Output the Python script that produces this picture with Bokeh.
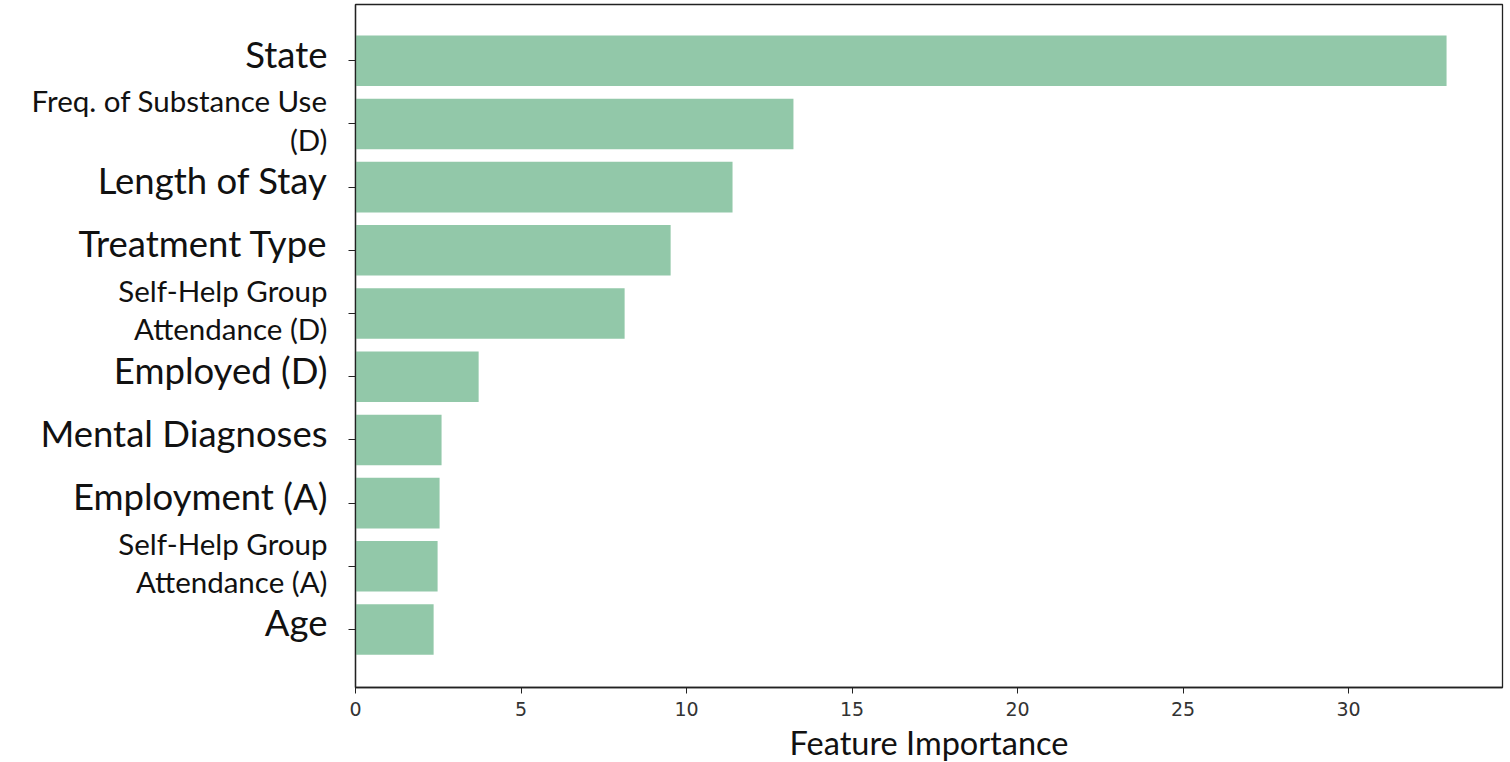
from bokeh.plotting import figure
from bokeh.models import FixedTicker, Range1d, ColumnDataSource
from bokeh.core.properties import value
from bokeh.layouts import row
from bokeh.embed import file_html
from bokeh.resources import INLINE

features = ["State", "Freq. of Substance Use\n(D)", "Length of Stay", "Treatment Type",
            "Self-Help Group\nAttendance (D)", "Employed (D)", "Mental Diagnoses",
            "Employment (A)", "Self-Help Group\nAttendance (A)", "Age"]
importance = [32.96, 13.23, 11.39, 9.52, 8.13, 3.72, 2.60, 2.54, 2.48, 2.36]
x_ticks = [0, 5, 10, 15, 20, 25, 30]

n = len(features)
ypos = [n - 1 - i for i in range(n)]

LABEL_FONT = "Lato"
BIG, SMALL = "36.5px", "29.5px"

y_range = Range1d(-0.918, 9.89)

p = figure(frame_width=1147, frame_height=683, output_backend="svg", toolbar_location=None,
           x_range=Range1d(0, 34.65), y_range=y_range,
           min_border_left=25, min_border_right=4, min_border_top=4, min_border_bottom=0)

p.hbar(y=ypos, right=importance, left=0, height=0.8, color="#92c8a9", line_color=None)

p.xgrid.visible = False
p.ygrid.visible = False
p.outline_line_color = "#222222"
p.outline_line_width = 1.3

p.xaxis.ticker = FixedTicker(ticks=x_ticks)
p.xaxis.minor_tick_line_color = None
p.xaxis.major_tick_out = 6
p.xaxis.major_tick_in = 0
p.xaxis.axis_line_color = "#222222"
p.xaxis.axis_line_width = 1.3
p.xaxis.major_tick_line_color = "#222222"
p.xaxis.major_label_text_font = "DejaVu Sans"
p.xaxis.major_label_text_font_size = "19px"
p.xaxis.major_label_text_color = "#333333"
p.xaxis.major_label_standoff = 8
p.xaxis.axis_label = "Feature Importance"
p.xaxis.axis_label_text_font = LABEL_FONT
p.xaxis.axis_label_text_font_style = "normal"
p.xaxis.axis_label_text_font_size = "32.5px"
p.xaxis.axis_label_text_color = "#111111"
p.xaxis.axis_label_standoff = 4

p.yaxis.ticker = FixedTicker(ticks=ypos)
p.yaxis.minor_tick_line_color = None
p.yaxis.major_tick_out = 7
p.yaxis.major_tick_in = 0
p.yaxis.axis_line_color = "#222222"
p.yaxis.axis_line_width = 1.3
p.yaxis.major_tick_line_color = "#222222"
p.yaxis.major_label_overrides = {y: "" for y in ypos}
p.yaxis.major_label_standoff = 0

wrapped = ["\n" in f for f in features]
src = ColumnDataSource(dict(
    y=ypos,
    x=[1.0] * n,
    text=features,
    size=[SMALL if w else BIG for w in wrapped],
    dy=[-4 if w else -7 for w in wrapped],
))
lab = figure(frame_width=330, frame_height=683, output_backend="svg", toolbar_location=None,
             x_range=Range1d(0, 1), y_range=y_range,
             min_border_left=0, min_border_right=0, min_border_top=4, min_border_bottom=0)
lab.axis.visible = False
lab.grid.visible = False
lab.outline_line_color = None
lab.text(x="x", y="y", text="text", source=src, text_align="right",
         text_baseline="middle", text_font=value(LABEL_FONT), text_font_size="size",
         text_line_height=1.1, text_color="#111111", x_offset=-3, y_offset="dy")

layout = row(lab, p)
open("out.html", "w").write(file_html(layout, INLINE))
